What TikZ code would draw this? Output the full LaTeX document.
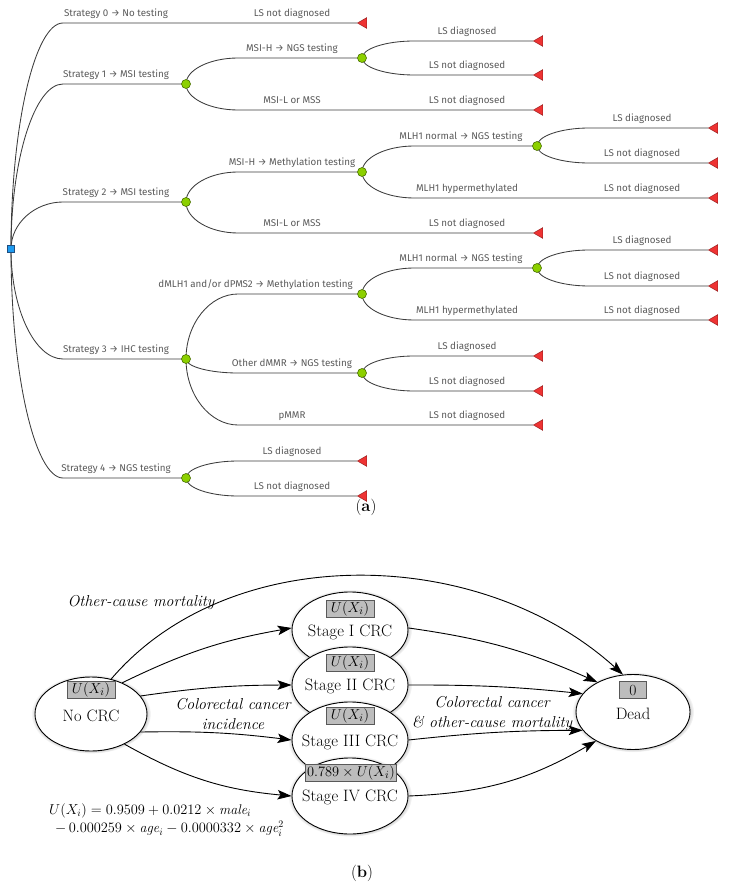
\documentclass[tikz,border=0pt]{standalone}
\usepackage{fontspec}
\newfontfamily\treefont{Fira Sans}
\usetikzlibrary{shapes.geometric,backgrounds,shadows,calc,arrows.meta}
\definecolor{lnc}{HTML}{3C3C3C}
\definecolor{txc}{HTML}{5A5A5A}
\definecolor{chg}{HTML}{8CD000}
\definecolor{chgd}{HTML}{4A7000}
\definecolor{rtb}{HTML}{1E9BF0}
\definecolor{rtbd}{HTML}{1F4F80}
\definecolor{trr}{HTML}{EE3333}
\definecolor{trrd}{HTML}{8A1A1A}
\definecolor{boxg}{HTML}{BDBDBD}
\tikzset{
  edge/.style={draw=lnc, line width=0.85pt},
  chance/.style={circle, fill=chg, draw=chgd, line width=0.6pt, inner sep=0pt, minimum size=9pt},
  rootnd/.style={rectangle, fill=rtb, draw=rtbd, line width=0.6pt, inner sep=0pt, minimum size=7.5pt},
  term/.style={regular polygon, regular polygon sides=3, shape border rotate=90, fill=trr, draw=trrd, line width=0.4pt, inner sep=0pt, minimum size=12.5pt, anchor=corner 1},
  lbl/.style={text=txc, font=\treefont\fontsize{9.8}{11}\selectfont, inner sep=0pt, anchor=base},
  st/.style={ellipse, draw=black, line width=0.9pt, fill=white, inner sep=0pt,
     circular drop shadow={shadow xshift=0pt, shadow yshift=0pt, shadow scale=1.07, opacity=0.7}},
  gbox/.style={fill=boxg, draw=black!65, line width=0.5pt, inner sep=1.5pt, minimum height=17pt, font=\fontsize{15.5}{16}\selectfont},
  btxt/.style={font=\fontsize{16.5}{18}\selectfont, inner sep=0pt},
  itxt/.style={font=\itshape\fontsize{15.8}{20}\selectfont, align=center, inner sep=0pt},
  ftxt/.style={font=\fontsize{14}{18.5}\selectfont, inner sep=0pt, align=left},
  arr/.style={-{Stealth[length=14pt,width=9.5pt,inset=3pt]}, line width=0.9pt},
}
\newcommand{\tbr}[2]{\draw[edge] let \p1=(#1), \p2=(#2) in (\p1) .. controls (\x1,{\y1+0.55*(\y2-\y1)}) and ({\x1+24pt},\y2) .. ({\x1+52pt},\y2) -- (\p2);}
\begin{document}
\begin{tikzpicture}[x=1pt,y=-1pt]
\useasboundingbox (0,0) rectangle (745,893);
% ---------------- (a) decision tree ----------------
\node[rootnd] (r) at (11,249) {};
\node[chance] (c1) at (186,84) {};
\node[chance] (c1a) at (362,58) {};
\node[chance] (c2) at (186,202) {};
\node[chance] (c2a) at (362,172) {};
\node[chance] (c2aa) at (537,146) {};
\node[chance] (c3) at (186,359) {};
\node[chance] (c3a) at (362,294) {};
\node[chance] (c3aa) at (537,268) {};
\node[chance] (c3b) at (362,373) {};
\node[chance] (c4) at (186,478) {};
\node[term] (t0) at (357,23) {};
\node[term] (t1a1) at (533,41) {};
\node[term] (t1a2) at (533,75) {};
\node[term] (t1b) at (533,110) {};
\node[term] (t2aa1) at (708,128) {};
\node[term] (t2aa2) at (708,163) {};
\node[term] (t2ab) at (708,198) {};
\node[term] (t2b) at (533,233) {};
\node[term] (t3aa1) at (708,250) {};
\node[term] (t3aa2) at (708,286) {};
\node[term] (t3ab) at (708,320) {};
\node[term] (t3b1) at (533,356) {};
\node[term] (t3b2) at (533,391) {};
\node[term] (t3c) at (533,425) {};
\node[term] (t4a) at (357,461) {};
\node[term] (t4b) at (357,496) {};
\begin{scope}[on background layer]
\tbr{r.center}{t0.corner 1}
\tbr{r.center}{c1.center}
\tbr{r.center}{c2.center}
\tbr{r.center}{c3.center}
\tbr{r.center}{c4.center}
\tbr{c1.center}{c1a.center}
\tbr{c1.center}{t1b.corner 1}
\tbr{c1a.center}{t1a1.corner 1}
\tbr{c1a.center}{t1a2.corner 1}
\tbr{c2.center}{c2a.center}
\tbr{c2.center}{t2b.corner 1}
\tbr{c2a.center}{c2aa.center}
\tbr{c2a.center}{t2ab.corner 1}
\tbr{c2aa.center}{t2aa1.corner 1}
\tbr{c2aa.center}{t2aa2.corner 1}
\tbr{c3.center}{c3a.center}
\tbr{c3.center}{c3b.center}
\tbr{c3.center}{t3c.corner 1}
\tbr{c3a.center}{c3aa.center}
\tbr{c3a.center}{t3ab.corner 1}
\tbr{c3aa.center}{t3aa1.corner 1}
\tbr{c3aa.center}{t3aa2.corner 1}
\tbr{c3b.center}{t3b1.corner 1}
\tbr{c3b.center}{t3b2.corner 1}
\tbr{c4.center}{t4a.corner 1}
\tbr{c4.center}{t4b.corner 1}
\end{scope}
% labels column 1
\node[lbl] (ls0) at (116,16.5) {Strategy 0 → No testing};
\node[lbl] (ls1) at (116,77.5) {Strategy 1 → MSI testing};
\node[lbl] (ls2) at (116,195.5) {Strategy 2 → MSI testing};
\node[lbl] (ls3) at (116,352.5) {Strategy 3 → IHC testing};
\node[lbl] (ls4) at (116,471.5) {Strategy 4 → NGS testing};
% labels column 2
\node[lbl] (l20) at (292,16.5) {LS not diagnosed};
\node[lbl] (l21) at (292,51.5) {MSI-H → NGS testing};
\node[lbl] (l22) at (292,103.5) {MSI-L or MSS};
\node[lbl] (l23) at (292,165.5) {MSI-H → Methylation testing};
\node[lbl] (l24) at (292,226.5) {MSI-L or MSS};
\node[lbl, anchor=base east] (l25) at (353,287.5) {dMLH1 and/or dPMS2 → Methylation testing};
\node[lbl] (l26) at (292,366.5) {Other dMMR → NGS testing};
\node[lbl] (l27) at (292,418.5) {pMMR};
\node[lbl] (l28) at (292,454.5) {LS diagnosed};
\node[lbl] (l29) at (292,489.5) {LS not diagnosed};
% labels column 3
\node[lbl] (l31) at (467,34.5) {LS diagnosed};
\node[lbl] (l32) at (467,68.5) {LS not diagnosed};
\node[lbl] (l33) at (467,103.5) {LS not diagnosed};
\node[lbl] (l34) at (461,139.5) {MLH1 normal → NGS testing};
\node[lbl] (l35) at (467,191.5) {MLH1 hypermethylated};
\node[lbl] (l36) at (467,226.5) {LS not diagnosed};
\node[lbl] (l37) at (461,261.5) {MLH1 normal → NGS testing};
\node[lbl] (l38) at (467,313.5) {MLH1 hypermethylated};
\node[lbl] (l39) at (467,349.5) {LS diagnosed};
\node[lbl] (l3a) at (467,384.5) {LS not diagnosed};
\node[lbl] (l3b) at (467,418.5) {LS not diagnosed};
% labels column 4
\node[lbl] (l41) at (642,121.5) {LS diagnosed};
\node[lbl] (l42) at (642,156.5) {LS not diagnosed};
\node[lbl] (l43) at (642,191.5) {LS not diagnosed};
\node[lbl] (l44) at (642,243.5) {LS diagnosed};
\node[lbl] (l45) at (642,279.5) {LS not diagnosed};
\node[lbl] (l46) at (642,313.5) {LS not diagnosed};
\node[btxt] (capa) at (366,507) {(\textbf{a})};
% ---------------- (b) state diagram ----------------
\node[st, minimum width=112pt, minimum height=74pt] (ncrc) at (91,714) {};
\node[gbox, minimum width=48pt] (bn) at (91,690) {$U(X_i)$};
\node[btxt] (tn) at (91,716) {No CRC};
\node[st, minimum width=116pt, minimum height=76pt] (s1) at (350,630) {};
\node[gbox, minimum width=48pt] (b1) at (350,609) {$U(X_i)$};
\node[btxt] (ts1) at (350,632) {Stage I CRC};
\node[st, minimum width=116pt, minimum height=76pt] (s2) at (350,685) {};
\node[gbox, minimum width=48pt] (b2) at (350,663) {$U(X_i)$};
\node[btxt] (ts2) at (350,686) {Stage II CRC};
\node[st, minimum width=116pt, minimum height=76pt] (s3) at (350,740) {};
\node[gbox, minimum width=48pt] (b3) at (350,716) {$U(X_i)$};
\node[btxt] (ts3) at (350,742) {Stage III CRC};
\node[st, minimum width=116pt, minimum height=76pt] (s4) at (350,796) {};
\node[gbox, minimum width=90pt] (b4) at (351,773) {$0.789\times U(X_i)$};
\node[btxt] (ts4) at (350,797) {Stage IV CRC};
\node[st, minimum width=114pt, minimum height=75pt] (dead) at (633,712) {};
\node[gbox, minimum width=27pt] (bd) at (633,690) {0};
\node[btxt] (td) at (633,714) {Dead};
% arrows
\draw[arr] (ncrc.60) .. controls (230,540) and (480,545) .. (dead.105);
\draw[arr] (ncrc.45) to[bend left=8] (s1.178);
\draw[arr] (ncrc.20) to[bend left=4] (s2.180);
\draw[arr] (ncrc.-20) to[bend left=4] (s3.180);
\draw[arr] (ncrc.-42) to[bend right=12] (s4.180);
\draw[arr] (s1.2) to[bend left=8] (dead.140);
\draw[arr] (s2.0) to[bend left=3] (dead.160);
\draw[arr] (s3.0) to[bend left=3] (dead.200);
\draw[arr] (s4.0) to[bend right=14] (dead.218);
% annotations
\node[itxt] (oc) at (141,603) {Other-cause mortality};
\node[itxt] (ci) at (233,714) {Colorectal cancer\\incidence};
\node[itxt] (cm) at (492,714) {Colorectal cancer\\\& other-cause mortality};
\node[ftxt, anchor=north west] (fm) at (49,803) {$U(X_i) = 0.9509 + 0.0212\times \mathit{male}_i$\\\hspace{6pt}$-\,0.000259\times \mathit{age}_i - 0.0000332\times \mathit{age}_i^2$};
\node[btxt] (capb) at (362,873) {(\textbf{b})};
\end{tikzpicture}
\end{document}
